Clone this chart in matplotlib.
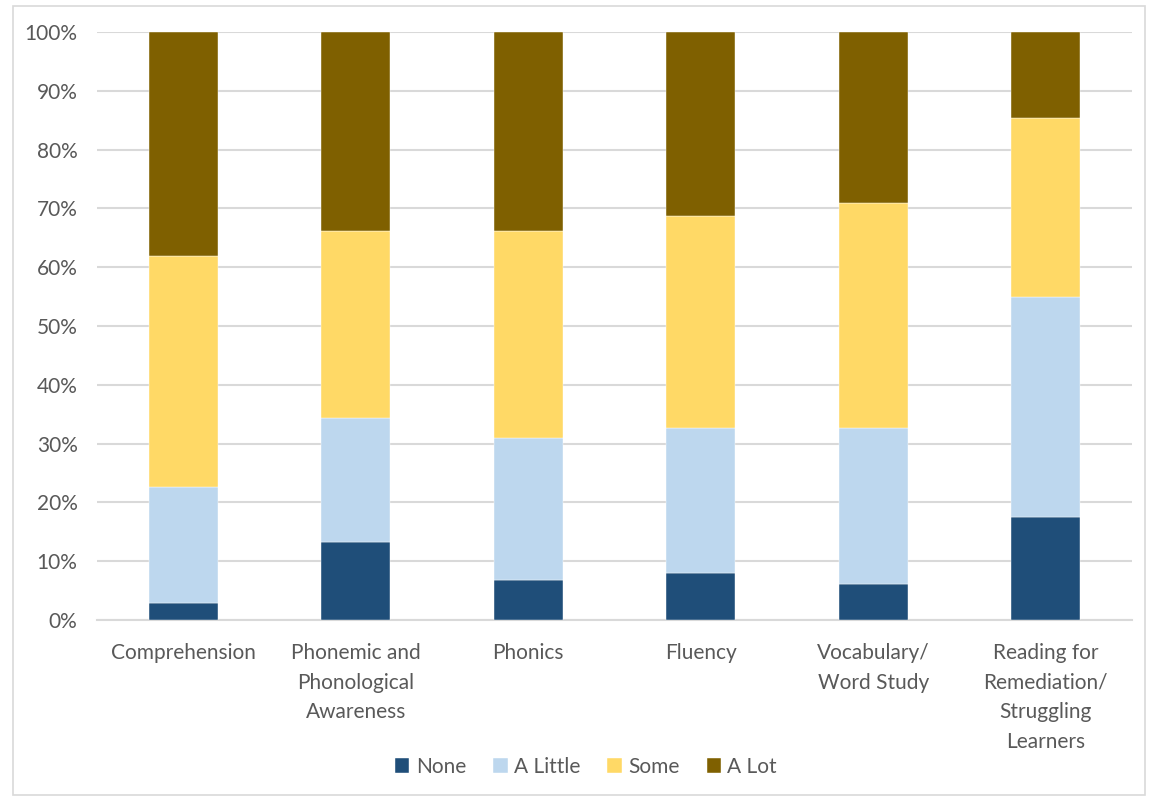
import matplotlib.pyplot as plt
import matplotlib.patches as mpatches
import numpy as np

categories = ['Comprehension', 'Phonemic and\nPhonological\nAwareness', 'Phonics',
              'Fluency', 'Vocabulary/\nWord Study', 'Reading for\nRemediation/\nStruggling\nLearners']
series = ['None', 'A Little', 'Some', 'A Lot']
none_vals = [2.9, 13.3, 6.8, 8.0, 6.1, 17.5]
little_vals = [19.7, 21.1, 24.2, 24.7, 26.6, 37.4]
some_vals = [39.3, 31.8, 35.1, 36.0, 38.2, 30.4]
alot_vals = [38.1, 33.8, 33.9, 31.3, 29.1, 14.7]
colors = ['#1F4E79', '#BDD7EE', '#FFD966', '#7F6000']

plt.rcParams['font.family'] = ['Lato', 'DejaVu Sans']
text_col = '#595959'
fs = 15

fig = plt.figure(figsize=(11.5, 7.98), dpi=100)
fig.patches.append(mpatches.Rectangle((0.011, 0.004), 0.985, 0.988, transform=fig.transFigure,
                                      fill=False, edgecolor='#D9D9D9', linewidth=1.2))
ax = fig.add_axes([97 / 1150, 1 - 620 / 798, (1132 - 97) / 1150, (620 - 32) / 798])

x = np.arange(len(categories))
bottom = np.zeros(len(categories))
for name, vals, c in zip(series, [none_vals, little_vals, some_vals, alot_vals], colors):
    ax.bar(x, vals, width=0.4, bottom=bottom, color=c, label=name, zorder=3,
           edgecolor='white', linewidth=0.3)
    bottom += np.array(vals)

ax.set_xlim(-0.5, len(categories) - 0.5)
ax.set_ylim(0, 100)
ax.set_yticks(np.arange(0, 101, 10))
ax.set_yticklabels([f'{v}%' for v in range(0, 101, 10)], fontsize=fs, color=text_col)
ax.set_xticks(x)
ax.set_xticklabels(categories, fontsize=fs, color=text_col, linespacing=1.6)
ax.tick_params(axis='both', length=0)
ax.tick_params(axis='x', pad=16.5)
ax.tick_params(axis='y', pad=14)
ax.grid(axis='y', color='#D9D9D9', linewidth=1.5, zorder=0)
for s in ['top', 'right', 'left']:
    ax.spines[s].set_visible(False)
ax.spines['bottom'].set_color('#D9D9D9')
ax.spines['bottom'].set_linewidth(1.5)

ax.legend(loc='center', bbox_to_anchor=(586 / 1150, 1 - 767 / 798), bbox_transform=fig.transFigure,
          ncol=4, frameon=False, fontsize=fs, handlelength=0.7, handleheight=0.7,
          handletextpad=0.3, columnspacing=1.3, labelcolor=text_col)

fig.savefig('out.png', dpi=100)
